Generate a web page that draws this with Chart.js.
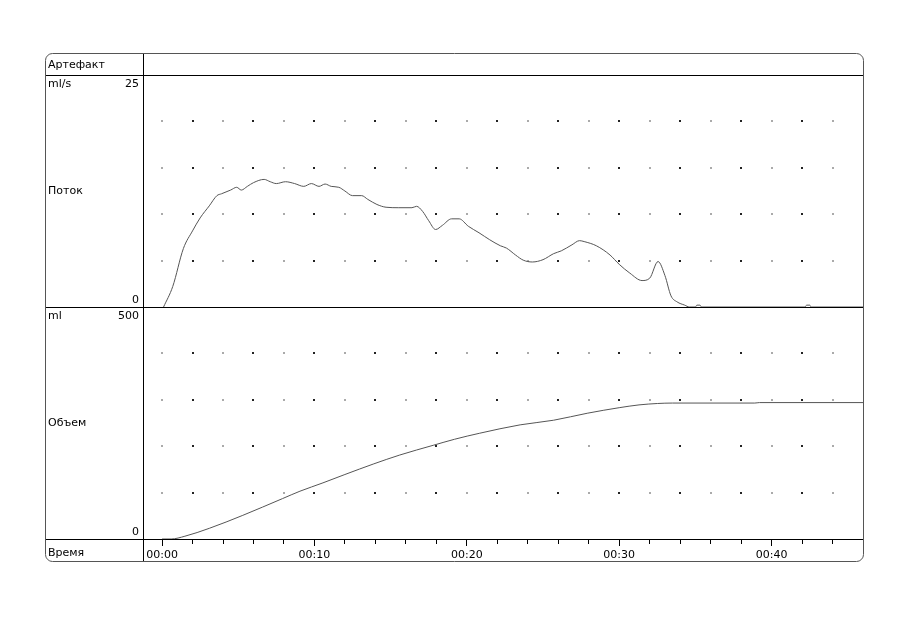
<!DOCTYPE html>
<html>
<head>
<meta charset="utf-8">
<script src="https://cdn.jsdelivr.net/npm/chart.js@4"></script>
<style>
    body { margin: 0; background: #fff; }
</style>
</head>
<body>
<canvas id="myChart" width="909" height="619"></canvas>
<script>
// flow curve, seconds and ml/s
var flowSec = [0.1, 0.7, 1.4, 2.0, 2.5, 3.1, 3.6, 3.9, 4.5, 4.9, 5.2, 5.6, 6.0, 6.7, 7.1, 7.5, 8.1, 8.7, 9.3, 9.8,
    10.3, 10.7, 11.1, 11.6, 12.0, 12.5, 13.1, 13.5, 14.1, 14.7, 15.5, 16.4, 16.7, 17.1, 17.5, 17.95, 18.4, 19.0, 19.5,
    20.1, 20.8, 21.5, 22.2, 22.6, 23.2, 23.7, 24.3, 25.0, 25.7, 26.2, 26.9, 27.4, 27.7, 28.5, 29.4, 30.0, 30.7, 31.5,
    32.0, 32.55, 33.0, 33.4, 33.8, 34.3, 34.6, 35.0, 35.1, 35.3, 35.4, 42.2, 42.3, 42.5, 42.6, 46];
var flowVal = [0, 2.2, 6.3, 8.2, 9.6, 10.9, 12.0, 12.2, 12.6, 12.9, 12.6, 13.0, 13.4, 13.75, 13.5, 13.3, 13.5, 13.3, 13.0, 13.3,
    13.0, 13.25, 13.0, 12.9, 12.5, 12.0, 12.0, 11.6, 11.05, 10.75, 10.7, 10.7, 10.85, 10.3, 9.3, 8.35, 8.8, 9.5, 9.5,
    8.7, 8.0, 7.25, 6.6, 6.35, 5.6, 5.05, 4.85, 5.1, 5.75, 6.05, 6.7, 7.15, 7.05, 6.6, 5.6, 4.6, 3.65, 2.85,
    3.1, 4.9, 3.4, 1.2, 0.55, 0.2, 0, 0, 0.2, 0.2, 0, 0, 0.2, 0.2, 0, 0];

// volume curve, seconds and ml
var volSec = [0, 0.6, 1.5, 3.1, 5.3, 7.9, 9.05, 10.56, 12.0, 13.9, 15.6, 17.8, 19.2, 20.85, 23.5, 25.7, 27.9, 30.0, 31.3, 32.5, 33.5, 38.9, 39.2, 46];
var volVal = [0, 0, 6, 23, 51, 87, 103, 121, 139, 162, 181, 202, 215, 228, 246, 256, 271, 283, 289, 292, 293, 293, 294, 294];

// panels
var rowNames = ['Артефакт', 'Поток', 'Объем', 'Время'];
var flowUnit = 'ml/s';
var volUnit = 'ml';
var flowMax = 25;
var volMax = 500;
var timeMin = -1.25;
var timeMax = 46;

var FONT = '11px "DejaVu Sans"';
var FRAME_LEFT = 45;

function toPoints(xs, ys) {
    var pts = [];
    for (var i = 0; i < xs.length; i++) {
        pts.push({ x: xs[i], y: ys[i] });
    }
    return pts;
}

function fmtTime(v) {
    var m = Math.floor(v / 60);
    var s = v % 60;
    return (m < 10 ? '0' : '') + m + ':' + (s < 10 ? '0' : '') + s;
}

// dotted grid inside both panels
var gridDots = {
    id: 'gridDots',
    beforeDatasetsDraw: function (chart) {
        var ctx = chart.ctx;
        var xs = chart.scales.x;
        var panels = [['yFlow', 5], ['yVol', 100]];
        ctx.save();
        panels.forEach(function (p) {
            var s = chart.scales[p[0]];
            for (var v = s.min + p[1]; v < s.max; v += p[1]) {
                var py = Math.round(s.getPixelForValue(v));
                for (var t = 0; t < timeMax - 1; t += 2) {
                    var px = Math.round(xs.getPixelForValue(t));
                    ctx.fillStyle = (t % 4 == 2) ? '#222' : '#aaa';
                    ctx.fillRect(px - 1, py - 1, 2, 2);
                }
            }
        });
        ctx.restore();
    }
};

// frame, separators and left column labels
var frame = {
    id: 'frame',
    afterDraw: function (chart) {
        var ctx = chart.ctx;
        var a = chart.chartArea;
        var yA = chart.scales.yArt;
        var yF = chart.scales.yFlow;
        var yV = chart.scales.yVol;
        var xs = chart.scales.x;
        var top = yA.top, bottom = xs.bottom, right = a.right;

        ctx.save();
        ctx.strokeStyle = '#000';
        ctx.lineWidth = 1;
        ctx.beginPath();
        [yA.bottom, yF.bottom, yV.bottom].forEach(function (y) {
            ctx.moveTo(FRAME_LEFT, Math.round(y) + 0.5);
            ctx.lineTo(right, Math.round(y) + 0.5);
        });
        ctx.moveTo(Math.round(a.left) + 0.5, top);
        ctx.lineTo(Math.round(a.left) + 0.5, bottom);
        ctx.stroke();

        ctx.strokeStyle = '#555';
        ctx.beginPath();
        ctx.roundRect(FRAME_LEFT + 0.5, top + 0.5, right - FRAME_LEFT, bottom - top, 7);
        ctx.stroke();

        ctx.fillStyle = '#000';
        ctx.font = FONT;
        ctx.textBaseline = 'middle';
        var lx = FRAME_LEFT + 3;
        var rx = a.left - 4;
        ctx.textAlign = 'left';
        ctx.fillText(rowNames[0], lx, (yA.top + yA.bottom) / 2 + 1);
        ctx.fillText(flowUnit, lx, yF.top + 9);
        ctx.fillText(rowNames[1], lx, (yF.top + yF.bottom) / 2);
        ctx.fillText(volUnit, lx, yV.top + 9);
        ctx.fillText(rowNames[2], lx, (yV.top + yV.bottom) / 2);
        ctx.fillText(rowNames[3], lx, (xs.top + xs.bottom) / 2 + 3);
        ctx.textAlign = 'right';
        ctx.fillText(String(yF.max), rx, yF.top + 9);
        ctx.fillText(String(yF.min), rx, yF.bottom - 7);
        ctx.fillText(String(yV.max), rx, yV.top + 9);
        ctx.fillText(String(yV.min), rx, yV.bottom - 7);
        ctx.restore();
    }
};

function panelAxis(max, weight, stackWeight) {
    return {
        type: 'linear',
        position: 'left',
        stack: 'panels',
        stackWeight: stackWeight,
        weight: weight,
        min: 0,
        max: max,
        afterFit: function (s) { s.width = 0; },
        grid: { display: false },
        border: { display: false },
        ticks: { display: false }
    };
}

function renderChart() {
    var ctx = document.getElementById('myChart');
    new Chart(ctx, {
        type: 'line',
        plugins: [gridDots, frame],
        data: {
            datasets: [{
                label: rowNames[1],
                data: toPoints(flowSec, flowVal),
                yAxisID: 'yFlow',
                borderColor: '#555',
                borderWidth: 1,
                pointRadius: 0,
                cubicInterpolationMode: 'monotone'
            }, {
                label: rowNames[2],
                data: toPoints(volSec, volVal),
                yAxisID: 'yVol',
                borderColor: '#555',
                borderWidth: 1,
                pointRadius: 0,
                cubicInterpolationMode: 'monotone'
            }]
        },
        options: {
            responsive: false,
            animation: false,
            layout: { padding: { left: 143, right: 46, top: 53, bottom: 58 } },
            plugins: {
                legend: { display: false },
                tooltip: { enabled: false }
            },
            scales: {
                x: {
                    type: 'linear',
                    min: timeMin,
                    max: timeMax,
                    afterFit: function (s) { s.height = 22; },
                    border: { display: true, color: '#000' },
                    grid: {
                        drawOnChartArea: false,
                        tickLength: 7,
                        tickColor: '#000',
                        tickBorderDash: function (c) {
                            return (c.tick && c.tick.value % 10 === 0) ? [] : [4, 20];
                        }
                    },
                    ticks: {
                        stepSize: 2,
                        includeBounds: false,
                        autoSkip: false,
                        maxRotation: 0,
                        padding: 3,
                        color: '#000',
                        font: { family: 'DejaVu Sans', size: 11 },
                        callback: function (v) { return v % 10 === 0 ? fmtTime(v) : ''; }
                    }
                },
                yArt: panelAxis(1, 3, 22),
                yFlow: panelAxis(flowMax, 2, 232),
                yVol: panelAxis(volMax, 1, 232)
            }
        }
    });
}

renderChart();
</script>
</body>
</html>
